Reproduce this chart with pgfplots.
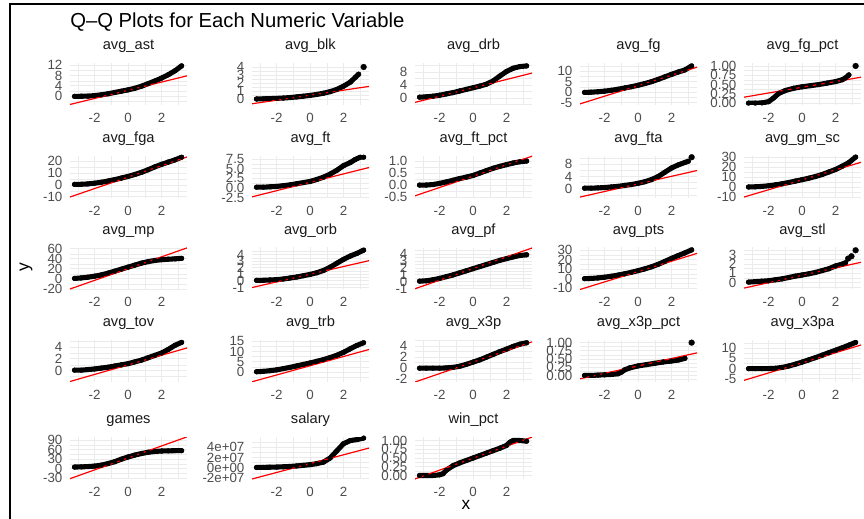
\documentclass[border=0pt]{standalone}
\usepackage{fontspec}
\setmainfont{Liberation Sans}
\usepackage{pgfplots}
\pgfplotsset{compat=1.18}
\definecolor{gridc}{RGB}{235,235,235}
\definecolor{tickc}{RGB}{77,77,77}
\definecolor{stripc}{RGB}{26,26,26}
\newcommand{\tickfont}{\fontsize{10}{11}\selectfont}
\newcommand{\stripfont}{\fontsize{11}{12}\selectfont}
\pgfplotsset{
  qq/.style={
    scale only axis, width=87.75pt, height=31.5pt, anchor=south west,
    xmin=-3.47, xmax=3.52,
    xtick={-2,0,2}, xticklabels={-2,0,2}, minor xtick={-3,-1,1,3},
    grid=both,
    major grid style={draw=gridc, line width=0.7pt},
    minor grid style={draw=gridc, line width=0.35pt},
    separate axis lines, axis line style={draw=none},
    major tick length=0pt, minor tick length=0pt, tick style={draw=none},
    tick label style={font=\tickfont, text=tickc},
    yticklabel style={anchor=east, inner sep=0pt, xshift=-5.5pt},
    xticklabel style={anchor=north, inner sep=0pt, yshift=-5.6pt},
    title style={anchor=base, at={(0.5,1)}, yshift=4.0pt, inner sep=0pt, font=\stripfont, text=stripc},
  },
  qqpts/.style={black, line width=3.8pt, mark=*, mark size=1.8pt, mark options={line width=0.2pt}, line join=round, line cap=round},
  qqout/.style={black, only marks, mark=*, mark size=2.2pt, mark options={line width=0.2pt}},
  qqline/.style={red, line width=0.9pt},
}
\begin{document}
\begin{tikzpicture}
\useasboundingbox (0,0) rectangle (648pt,388.5pt);
\fill[white] (0,0) rectangle (648pt,388.5pt);
\draw[line width=1.5pt] (7.5pt,-2pt) -- (7.5pt,385.5pt) -- (650pt,385.5pt);
\node[anchor=base west, inner sep=0pt, font=\fontsize{15.2}{17}\selectfont] at (52.5pt,368pt) {Q–Q Plots for Each Numeric Variable};
\node[rotate=90, inner sep=0pt, font=\fontsize{13}{15}\selectfont] at (19.5pt,188pt) {y};
\node[inner sep=0pt, font=\fontsize{13}{15}\selectfont] at (349.5pt,10pt) {x};

% ---------- Row 1 ----------
\begin{axis}[qq, at={(52.5pt,309.75pt)}, title={avg\_ast}, ymin=-3.3, ymax=12.8,
  ytick={0,4,8,12}, yticklabels={0,4,8,12}, minor ytick={-2,2,6,10}]
\addplot[qqpts] coordinates {(-3.2,0)(-2.8,0.05)(-2.4,0.1)(-2.0,0.3)(-1.6,0.6)(-1.2,1.0)(-0.8,1.5)(-0.4,2.0)(0,2.5)(0.4,3.1)(0.8,3.9)(1.2,4.9)(1.6,5.9)(2.0,7.0)(2.4,8.3)(2.8,9.8)(3.2,11.7)};
\addplot[qqline] coordinates {(-3.6,-3.30)(3.6,8.0)};
\end{axis}
\begin{axis}[qq, at={(189pt,309.75pt)}, title={avg\_blk}, ymin=-0.75, ymax=4.5,
  ytick={0,1,2,3,4}, yticklabels={0,1,2,3,4}, minor ytick={0.5,1.5,2.5,3.5}]
\addplot[qqpts] coordinates {(-3.2,0)(-2.8,0.02)(-2.4,0.05)(-2.0,0.08)(-1.6,0.12)(-1.2,0.18)(-0.8,0.26)(-0.4,0.35)(0,0.45)(0.4,0.57)(0.8,0.72)(1.2,0.92)(1.6,1.2)(2.0,1.6)(2.4,2.1)(2.7,2.7)(2.9,3.1)};
\addplot[qqout] coordinates {(3.2,4.0)};
\addplot[qqline] coordinates {(-3.6,-0.64)(3.6,1.60)};
\end{axis}
\begin{axis}[qq, at={(311.25pt,309.75pt)}, title={avg\_drb}, ymin=-2.1, ymax=10.8,
  ytick={0,4,8}, yticklabels={0,4,8}, minor ytick={-2,2,6,10}]
\addplot[qqpts] coordinates {(-3.2,0.3)(-2.8,0.4)(-2.4,0.6)(-2.0,0.9)(-1.6,1.3)(-1.2,1.7)(-0.8,2.2)(-0.4,2.7)(0,3.2)(0.4,3.7)(0.8,4.3)(1.2,5.3)(1.6,6.8)(2.0,8.2)(2.4,9.2)(2.8,9.7)(3.2,9.9)};
\addplot[qqline] coordinates {(-3.6,-1.47)(3.6,7.81)};
\end{axis}
\begin{axis}[qq, at={(435pt,309.75pt)}, title={avg\_fg}, ymin=-6, ymax=14,
  ytick={-5,0,5,10}, yticklabels={-5,0,5,10}, minor ytick={-2.5,2.5,7.5,12.5}]
\addplot[qqpts] coordinates {(-3.2,0)(-2.8,0.1)(-2.4,0.3)(-2.0,0.6)(-1.6,1.0)(-1.2,1.5)(-0.8,2.1)(-0.4,2.7)(0,3.4)(0.4,4.2)(0.8,5.1)(1.2,6.2)(1.6,7.4)(2.0,8.6)(2.4,9.7)(2.8,10.7)(3.2,12.6)};
\addplot[qqline] coordinates {(-3.6,-5.8)(3.6,12.2)};
\end{axis}
\begin{axis}[qq, at={(558pt,309.75pt)}, title={avg\_fg\_pct}, ymin=-0.05, ymax=1.08,
  ytick={0,0.25,0.5,0.75,1}, yticklabels={0.00,0.25,0.50,0.75,1.00}, minor ytick={0.125,0.375,0.625,0.875}]
\addplot[qqpts] coordinates {(-3.2,0)(-2.8,0)(-2.4,0.005)(-2.0,0.04)(-1.7,0.14)(-1.4,0.26)(-1.0,0.34)(-0.5,0.40)(0,0.44)(0.5,0.47)(1.0,0.5)(1.5,0.54)(2.0,0.58)(2.4,0.63)(2.6,0.68)(2.8,0.76)};
\addplot[qqout] coordinates {(3.2,1.0)};
\addplot[qqline] coordinates {(-3.6,0.150)(3.6,0.704)};
\end{axis}

% ---------- Row 2 ----------
\begin{axis}[qq, at={(52.5pt,240pt)}, title={avg\_fga}, ymin=-10.9, ymax=24.3,
  ytick={-10,0,10,20}, yticklabels={-10,0,10,20}, minor ytick={-5,5,15}]
\addplot[qqpts] coordinates {(-3.2,0.5)(-2.8,0.6)(-2.4,0.9)(-2.0,1.5)(-1.6,2.3)(-1.2,3.3)(-0.8,4.5)(-0.4,5.8)(0,7.2)(0.4,8.8)(0.8,10.6)(1.2,12.8)(1.6,15.2)(2.0,17.3)(2.4,19.2)(2.8,21.0)(3.2,23.3)};
\addplot[qqline] coordinates {(-3.6,-10.68)(3.6,23.88)};
\end{axis}
\begin{axis}[qq, at={(189pt,240pt)}, title={avg\_ft}, ymin=-2.6, ymax=8.3,
  ytick={-2.5,0,2.5,5,7.5}, yticklabels={-2.5,0.0,2.5,5.0,7.5}, minor ytick={-1.25,1.25,3.75,6.25}]
\addplot[qqpts] coordinates {(-3.2,0.2)(-2.8,0.2)(-2.4,0.3)(-2.0,0.4)(-1.6,0.6)(-1.2,0.8)(-0.8,1.1)(-0.4,1.4)(0,1.7)(0.4,2.2)(0.8,2.8)(1.2,3.6)(1.6,4.6)(2.0,5.8)(2.4,6.6)(2.7,7.4)(3.0,8.0)(3.2,8.0)};
\addplot[qqline] coordinates {(-3.6,-2.44)(3.6,5.40)};
\end{axis}
\begin{axis}[qq, at={(311.25pt,240pt)}, title={avg\_ft\_pct}, ymin=-0.54, ymax=1.21,
  ytick={-0.5,0,0.5,1}, yticklabels={-0.5,0.0,0.5,1.0}, minor ytick={-0.25,0.25,0.75}]
\addplot[qqpts] coordinates {(-3.2,0)(-2.8,0)(-2.4,0.02)(-2.0,0.07)(-1.6,0.13)(-1.2,0.2)(-0.8,0.27)(-0.4,0.33)(0,0.4)(0.4,0.5)(0.8,0.6)(1.2,0.7)(1.6,0.78)(2.0,0.85)(2.4,0.92)(2.8,0.97)(3.2,1.0)};
\addplot[qqline] coordinates {(-3.6,-0.48)(3.6,1.22)};
\end{axis}
\begin{axis}[qq, at={(435pt,240pt)}, title={avg\_fta}, ymin=-3, ymax=10.7,
  ytick={0,4,8}, yticklabels={0,4,8}, minor ytick={-2,2,6,10}]
\addplot[qqpts] coordinates {(-3.2,0.2)(-2.8,0.2)(-2.4,0.3)(-2.0,0.4)(-1.6,0.6)(-1.2,0.8)(-0.8,1.1)(-0.4,1.4)(0,1.8)(0.4,2.3)(0.8,3.0)(1.2,4.0)(1.6,5.4)(2.0,6.8)(2.4,7.8)(2.8,8.6)(3.0,9.0)};
\addplot[qqout] coordinates {(3.2,10.3)};
\addplot[qqline] coordinates {(-3.6,-2.86)(3.6,6.06)};
\end{axis}
\begin{axis}[qq, at={(558pt,240pt)}, title={avg\_gm\_sc}, ymin=-11, ymax=31,
  ytick={-10,0,10,20,30}, yticklabels={-10,0,10,20,30}, minor ytick={-5,5,15,25}]
\addplot[qqpts] coordinates {(-3.2,0)(-2.8,0.2)(-2.4,0.6)(-2.0,1.2)(-1.6,2.1)(-1.2,3.2)(-0.8,4.5)(-0.4,5.9)(0,7.3)(0.4,8.8)(0.8,10.5)(1.2,12.5)(1.6,15)(2.0,17.5)(2.4,20.8)(2.8,24.5)(3.2,30)};
\addplot[qqline] coordinates {(-3.6,-10.69)(3.6,25.09)};
\end{axis}

% ---------- Row 3 ----------
\begin{axis}[qq, at={(52.5pt,171.375pt)}, title={avg\_mp}, ymin=-21, ymax=62.6,
  ytick={-20,0,20,40,60}, yticklabels={-20,0,20,40,60}, minor ytick={-10,10,30,50}]
\addplot[qqpts] coordinates {(-3.2,1)(-2.8,2)(-2.4,3.5)(-2.0,5.5)(-1.6,8)(-1.2,11.5)(-0.8,15.5)(-0.4,19.5)(0,23.5)(0.4,27.5)(0.8,31.5)(1.2,34.5)(1.6,36.8)(2.0,38.3)(2.4,39.3)(2.8,40)(3.2,41)};
\addplot[qqline] coordinates {(-3.6,-21.52)(3.6,62.72)};
\end{axis}
\begin{axis}[qq, at={(189pt,171.375pt)}, title={avg\_orb}, ymin=-1.3, ymax=5.1,
  ytick={-1,0,1,2,3,4}, yticklabels={-1,0,1,2,3,4}, minor ytick={-0.5,0.5,1.5,2.5,3.5,4.5}]
\addplot[qqpts] coordinates {(-3.2,0.1)(-2.8,0.1)(-2.4,0.15)(-2.0,0.2)(-1.6,0.3)(-1.2,0.45)(-0.8,0.6)(-0.4,0.8)(0,1.0)(0.4,1.25)(0.8,1.6)(1.2,2.1)(1.6,2.7)(2.0,3.3)(2.4,3.8)(2.8,4.2)(3.2,4.7)};
\addplot[qqline] coordinates {(-3.6,-1.08)(3.6,3.14)};
\end{axis}
\begin{axis}[qq, at={(311.25pt,171.375pt)}, title={avg\_pf}, ymin=-1.1, ymax=4.95,
  ytick={-1,0,1,2,3,4}, yticklabels={-1,0,1,2,3,4}, minor ytick={-0.5,0.5,1.5,2.5,3.5,4.5}]
\addplot[qqpts] coordinates {(-3.2,0.1)(-2.8,0.15)(-2.4,0.3)(-2.0,0.5)(-1.6,0.75)(-1.2,1.0)(-0.8,1.3)(-0.4,1.6)(0,1.9)(0.4,2.2)(0.8,2.5)(1.2,2.8)(1.6,3.1)(2.0,3.35)(2.4,3.6)(2.8,3.8)(3.2,3.9)};
\addplot[qqline] coordinates {(-3.6,-1.10)(3.6,4.94)};
\end{axis}
\begin{axis}[qq, at={(435pt,171.375pt)}, title={avg\_pts}, ymin=-11.4, ymax=33,
  ytick={-10,0,10,20,30}, yticklabels={-10,0,10,20,30}, minor ytick={-5,5,15,25}]
\addplot[qqpts] coordinates {(-3.2,0)(-2.8,0.3)(-2.4,0.8)(-2.0,1.6)(-1.6,2.6)(-1.2,3.8)(-0.8,5.2)(-0.4,6.8)(0,8.5)(0.4,10.4)(0.8,12.6)(1.2,15.2)(1.6,18.3)(2.0,21.5)(2.4,24.5)(2.8,27.3)(3.2,30.5)};
\addplot[qqline] coordinates {(-3.6,-12.11)(3.6,27.21)};
\end{axis}
\begin{axis}[qq, at={(558pt,171.375pt)}, title={avg\_stl}, ymin=-0.75, ymax=3.8,
  ytick={0,1,2,3}, yticklabels={0,1,2,3}, minor ytick={-0.5,0.5,1.5,2.5,3.5}]
\addplot[qqpts] coordinates {(-3.2,0.05)(-2.8,0.1)(-2.4,0.15)(-2.0,0.2)(-1.6,0.3)(-1.2,0.4)(-0.8,0.55)(-0.4,0.7)(0,0.82)(0.4,0.95)(0.8,1.1)(1.2,1.3)(1.6,1.5)(2.0,1.8)(2.4,2.0)(2.6,2.15)};
\addplot[qqout] coordinates {(2.75,2.6)(2.95,2.85)(3.2,3.5)};
\addplot[qqline] coordinates {(-3.6,-0.65)(3.6,2.23)};
\end{axis}

% ---------- Row 4 ----------
\begin{axis}[qq, at={(52.5pt,102pt)}, title={avg\_tov}, ymin=-1.9, ymax=5.2,
  ytick={0,2,4}, yticklabels={0,2,4}, minor ytick={-1,1,3,5}]
\addplot[qqpts] coordinates {(-3.2,0.1)(-2.8,0.1)(-2.4,0.2)(-2.0,0.3)(-1.6,0.45)(-1.2,0.6)(-0.8,0.8)(-0.4,1.0)(0,1.2)(0.4,1.5)(0.8,1.8)(1.2,2.2)(1.6,2.6)(2.0,3.0)(2.4,3.6)(2.8,4.3)(3.2,4.8)};
\addplot[qqline] coordinates {(-3.6,-1.92)(3.6,3.92)};
\end{axis}
\begin{axis}[qq, at={(189pt,102pt)}, title={avg\_trb}, ymin=-4.6, ymax=15.5,
  ytick={0,5,10,15}, yticklabels={0,5,10,15}, minor ytick={-2.5,2.5,7.5,12.5}]
\addplot[qqpts] coordinates {(-3.2,0.3)(-2.8,0.5)(-2.4,0.8)(-2.0,1.2)(-1.6,1.8)(-1.2,2.4)(-0.8,3.1)(-0.4,3.8)(0,4.5)(0.4,5.3)(0.8,6.1)(1.2,7.1)(1.6,8.2)(2.0,9.6)(2.4,11.3)(2.8,12.9)(3.2,14.2)};
\addplot[qqline] coordinates {(-3.6,-4.78)(3.6,11.14)};
\end{axis}
\begin{axis}[qq, at={(311.25pt,102pt)}, title={avg\_x3p}, ymin=-2.5, ymax=5.1,
  ytick={-2,0,2,4}, yticklabels={-2,0,2,4}, minor ytick={-1,1,3,5}]
\addplot[qqpts] coordinates {(-3.2,0)(-2.8,0)(-2.4,0)(-2.0,0)(-1.6,0.05)(-1.2,0.15)(-0.8,0.35)(-0.4,0.7)(0,1.1)(0.4,1.5)(0.8,2.0)(1.2,2.5)(1.6,3.0)(2.0,3.45)(2.4,3.95)(2.8,4.35)(3.2,4.6)};
\addplot[qqline] coordinates {(-3.6,-2.64)(3.6,4.84)};
\end{axis}
\begin{axis}[qq, at={(435pt,102pt)}, title={avg\_x3p\_pct}, ymin=-0.2, ymax=1.08,
  ytick={0,0.25,0.5,0.75,1}, yticklabels={0.00,0.25,0.50,0.75,1.00}, minor ytick={-0.125,0.125,0.375,0.625,0.875}]
\addplot[qqpts] coordinates {(-3.2,0)(-2.8,0)(-2.4,0.01)(-2.0,0.02)(-1.6,0.03)(-1.2,0.05)(-1.0,0.1)(-0.8,0.17)(-0.5,0.23)(0,0.29)(0.5,0.33)(1.0,0.37)(1.5,0.41)(2.0,0.44)(2.4,0.47)(2.8,0.52)};
\addplot[qqout] coordinates {(3.2,1.0)};
\addplot[qqline] coordinates {(-3.6,-0.117)(3.6,0.697)};
\end{axis}
\begin{axis}[qq, at={(558pt,102pt)}, title={avg\_x3pa}, ymin=-6.5, ymax=14,
  ytick={-5,0,5,10}, yticklabels={-5,0,5,10}, minor ytick={-2.5,2.5,7.5,12.5}]
\addplot[qqpts] coordinates {(-3.2,0)(-2.8,0)(-2.4,0)(-2.0,0.05)(-1.6,0.2)(-1.2,0.6)(-0.8,1.3)(-0.4,2.2)(0,3.2)(0.4,4.3)(0.8,5.4)(1.2,6.6)(1.6,7.8)(2.0,9.0)(2.4,10.2)(2.8,11.5)(3.2,12.8)};
\addplot[qqline] coordinates {(-3.6,-6.02)(3.6,11.76)};
\end{axis}

% ---------- Row 5 ----------
\begin{axis}[qq, at={(52.5pt,29.25pt)}, title={games}, ymin=-33, ymax=100.5,
  ytick={-30,0,30,60,90}, yticklabels={-30,0,30,60,90}, minor ytick={-15,15,45,75}]
\addplot[qqpts] coordinates {(-3.2,5)(-2.8,5.5)(-2.4,6.5)(-2.0,8)(-1.6,11)(-1.2,16)(-0.8,22)(-0.4,30)(0,37)(0.4,43)(0.8,48)(1.2,52)(1.6,54.5)(2.0,56)(2.4,56.5)(2.8,57)(3.2,57)};
\addplot[qqline] coordinates {(-3.6,-34.4)(3.6,102.4)};
\end{axis}
\begin{axis}[qq, at={(189pt,29.25pt)}, title={salary}, ymin=-22, ymax=60,
  ytick={-20,0,20,40}, yticklabels={-2e+07,0e+00,2e+07,4e+07}, minor ytick={-10,10,30,50}]
\addplot[qqpts] coordinates {(-3.2,0.5)(-2.8,0.8)(-2.4,1)(-2.0,1.3)(-1.6,1.8)(-1.2,2.5)(-0.8,3.5)(-0.4,4.7)(0,6)(0.4,8)(0.8,11)(1.2,19)(1.6,33)(2.0,47)(2.4,53)(2.8,55)(3.2,58)};
\addplot[qqline] coordinates {(-3.6,-23.1)(3.6,39.1)};
\end{axis}
\begin{axis}[qq, at={(311.25pt,29.25pt)}, title={win\_pct}, ymin=-0.1, ymax=1.1,
  ytick={0,0.25,0.5,0.75,1}, yticklabels={0.00,0.25,0.50,0.75,1.00}, minor ytick={0.125,0.375,0.625,0.875}]
\addplot[qqpts] coordinates {(-3.2,0)(-2.8,0)(-2.4,0)(-2.0,0.02)(-1.8,0.05)(-1.6,0.15)(-1.2,0.28)(-0.8,0.36)(-0.4,0.43)(0,0.5)(0.4,0.57)(0.8,0.64)(1.2,0.71)(1.6,0.78)(2.0,0.86)(2.2,0.95)(2.4,1.0)(2.8,1.0)(3.2,0.98)};
\addplot[qqline] coordinates {(-3.6,-0.121)(3.6,1.111)};
\end{axis}
\end{tikzpicture}
\end{document}
